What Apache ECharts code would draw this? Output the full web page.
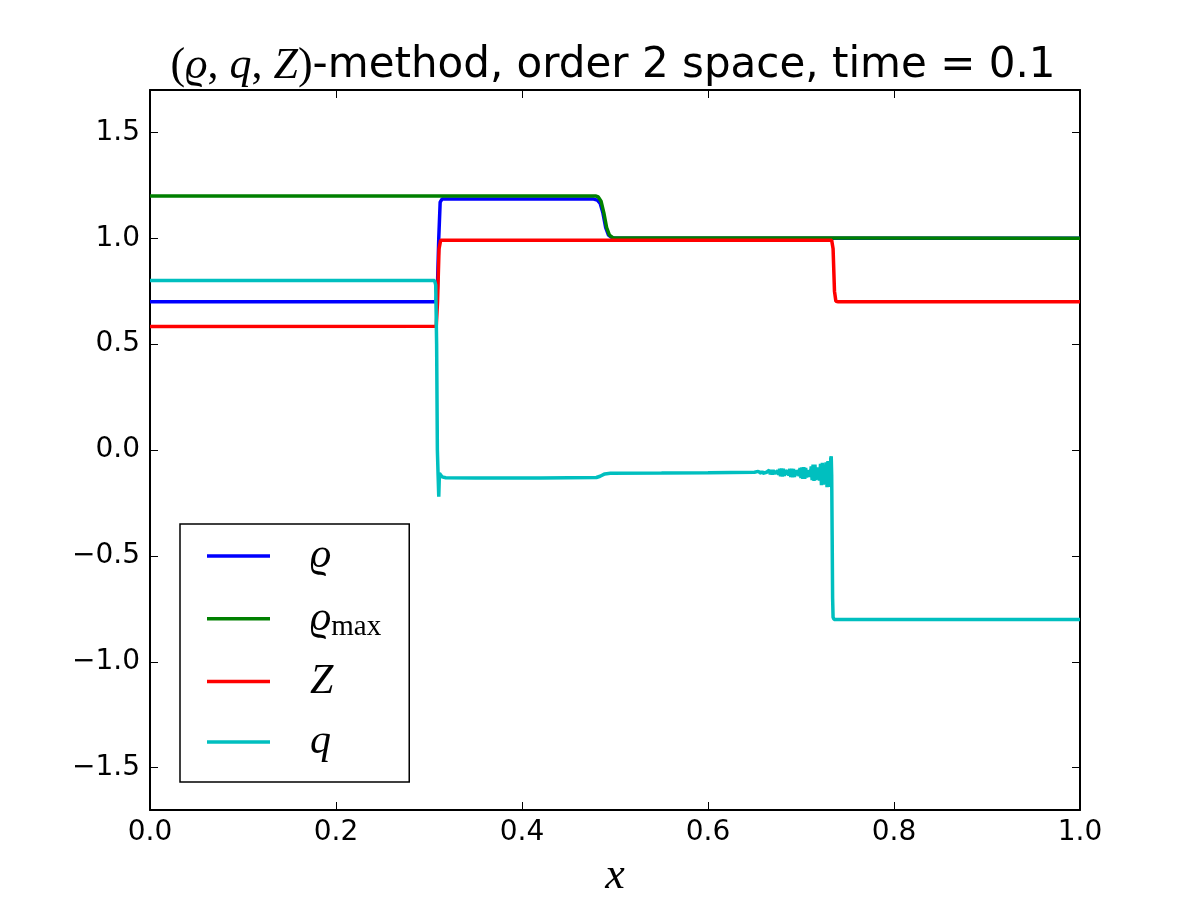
<!DOCTYPE html>
<html>
<head>
<meta charset="utf-8">
<script src="https://cdn.jsdelivr.net/npm/echarts@6/dist/echarts.min.js"></script>
<style>
html, body { margin: 0; padding: 0; background: #fff; }
#chart { width: 1200px; height: 900px; }
</style>
</head>
<body>
<div id="chart"></div>
<script>
// tick labels
var xTicks = [0, 0.2, 0.4, 0.6, 0.8, 1.0];
var yTicks = [-1.5, -1.0, -0.5, 0.0, 0.5, 1.0, 1.5];

// series values, [x, value]
var rho = [
	[0, 0.7], [0.3075, 0.7], [0.309, 0.76], [0.3105, 1.0], [0.312, 1.17], [0.314, 1.185],
	[0.477, 1.185], [0.481, 1.18], [0.484, 1.165], [0.487, 1.12], [0.49, 1.05],
	[0.493, 1.015], [0.497, 1.002], [0.5, 1.0], [1.0, 1.0]
];
var rhoMax = [
	[0, 1.2], [0.479, 1.2], [0.482, 1.195], [0.485, 1.175], [0.488, 1.12],
	[0.491, 1.05], [0.494, 1.015], [0.498, 1.002], [0.5, 1.0], [1.0, 1.0]
];
var zVals = [
	[0, 0.583], [0.3078, 0.584], [0.3092, 0.7], [0.3108, 0.95], [0.3125, 0.99],
	[0.733, 0.99], [0.7345, 0.95], [0.736, 0.75], [0.7375, 0.702], [0.74, 0.7], [1.0, 0.7]
];
var qVals = [
	[0, 0.8], [0.306, 0.8], [0.3072, 0.78], [0.3082, 0.5], [0.309, 0.0], [0.3098, -0.12],
	[0.3105, -0.22], [0.3112, -0.11], [0.3122, -0.118], [0.314, -0.127], [0.318, -0.131],
	[0.35, -0.132], [0.42, -0.132], [0.48, -0.13], [0.484, -0.124], [0.489, -0.113],
	[0.495, -0.11], [0.55, -0.109], [0.6, -0.108], [0.65, -0.105],
	[0.652, -0.105], [0.654, -0.101], [0.655, -0.109], [0.656, -0.1], [0.657, -0.11],
	[0.658, -0.1], [0.659, -0.11], [0.66, -0.101], [0.661, -0.109], [0.663, -0.105],
	[0.664, -0.099], [0.665, -0.112], [0.666, -0.095], [0.667, -0.115], [0.668, -0.094],
	[0.669, -0.116], [0.67, -0.094], [0.671, -0.115], [0.672, -0.098], [0.673, -0.111],
	[0.674, -0.106], [0.675, -0.096], [0.676, -0.118], [0.677, -0.089], [0.678, -0.124],
	[0.679, -0.087], [0.68, -0.125], [0.681, -0.088], [0.682, -0.123], [0.683, -0.094],
	[0.684, -0.116], [0.685, -0.107], [0.686, -0.095], [0.687, -0.122], [0.688, -0.089],
	[0.689, -0.128], [0.69, -0.088], [0.691, -0.129], [0.692, -0.089], [0.693, -0.127],
	[0.694, -0.095], [0.695, -0.119], [0.696, -0.108], [0.697, -0.094], [0.698, -0.124],
	[0.699, -0.085], [0.7, -0.133], [0.701, -0.082], [0.702, -0.136], [0.703, -0.081],
	[0.704, -0.136], [0.705, -0.085], [0.706, -0.13], [0.707, -0.096], [0.708, -0.113],
	[0.709, -0.095], [0.71, -0.128], [0.711, -0.077], [0.712, -0.142], [0.713, -0.069],
	[0.714, -0.146], [0.715, -0.069], [0.716, -0.142], [0.717, -0.082], [0.718, -0.122],
	[0.719, -0.092], [0.72, -0.144], [0.721, -0.065], [0.722, -0.166], [0.723, -0.06],
	[0.724, -0.164], [0.725, -0.078], [0.726, -0.154], [0.727, -0.058], [0.728, -0.176],
	[0.729, -0.052], [0.73, -0.174], [0.731, -0.058], [0.7315, -0.152], [0.732, -0.04],
	[0.7325, -0.03], [0.733, -0.12], [0.7335, -0.4], [0.734, -0.7], [0.7345, -0.79],
	[0.7355, -0.8], [1.0, -0.8]
];

var names = ['rho', 'rhomax', 'Z', 'q'];
var colors = ['#0000ff', '#008000', '#ff0000', '#00bfbf'];
var legendText = {
	rho: '{g|}{i|ϱ}',
	rhomax: '{g|}{i|ϱ}{s|max}',
	Z: '{g|}{i|Z}',
	q: '{g|}{i|q}'
};

var mathFont = 'Liberation Serif';
var sansFont = 'DejaVu Sans';

var chartDom = document.getElementById('chart');
var myChart = echarts.init(chartDom, null, { renderer: 'canvas', devicePixelRatio: 1 });

function fmt(v) {
	var s = Math.abs(v).toFixed(1);
	return v < -1e-9 ? '\u2212' + s : s;
}

var tickStyle = { show: true, inside: true, length: 8, lineStyle: { color: '#000', width: 1 } };
var lineStyleAxis = { show: true, onZero: false, lineStyle: { color: '#000', width: 2 } };

function makeSeries(name, data, i) {
	return {
		name: name,
		type: 'line',
		data: data,
		symbol: 'none',
		showSymbol: false,
		xAxisIndex: 0,
		yAxisIndex: 0,
		lineStyle: { width: 3.5, color: colors[i] },
		itemStyle: { color: colors[i] },
		z: 2 + i,
		clip: true
	};
}

var option = {
	animation: false,
	backgroundColor: '#fff',
	title: {
		text: '{r|(}{i|ϱ}{r|, }{i|q}{r|, }{i|Z}{r|)}{t|-method, order 2 space, time = 0.1}',
		left: 608,
		top: 39,
		textAlign: 'center',
		textStyle: {
			fontWeight: 'normal',
			rich: {
				r: { fontFamily: mathFont, fontSize: 44, fontWeight: 'normal', color: '#000' },
				i: { fontFamily: mathFont, fontStyle: 'italic', fontSize: 44, fontWeight: 'normal', color: '#000' },
				t: { fontFamily: sansFont, fontSize: 42, fontWeight: 'normal', color: '#000' }
			}
		}
	},
	grid: {
		left: 150,
		right: 120,
		top: 90,
		bottom: 90,
		containLabel: false,
		outerBoundsMode: 'none'
	},
	legend: {
		data: names,
		orient: 'vertical',
		left: 180,
		top: 524,
		icon: 'rect',
		itemWidth: 63,
		itemHeight: 3.5,
		itemGap: 18.3,
		padding: [11, 28, 19, 27],
		borderColor: '#000',
		borderWidth: 1.5,
		borderRadius: 0,
		backgroundColor: '#fff',
		formatter: function (n) { return legendText[n]; },
		textStyle: {
			rich: {
				g: { width: 35, lineHeight: 40 },
				i: { fontFamily: mathFont, fontStyle: 'italic', fontSize: 42, color: '#000', lineHeight: 40 },
				s: { fontFamily: mathFont, fontSize: 29, color: '#000', padding: [18, 0, 0, 0], lineHeight: 40 }
			}
		}
	},
	xAxis: [
		{
			type: 'value',
			min: 0,
			max: 1,
			position: 'bottom',
			splitLine: { show: false },
			axisLine: lineStyleAxis,
			axisTick: Object.assign({ customValues: xTicks }, tickStyle),
			axisLabel: {
				customValues: xTicks,
				formatter: fmt,
				margin: 9,
				fontFamily: sansFont,
				fontSize: 28,
				color: '#000'
			},
			name: 'x',
			nameLocation: 'middle',
			nameGap: 44,
			nameTextStyle: { fontFamily: mathFont, fontStyle: 'italic', fontSize: 44, color: '#000' }
		},
		{
			type: 'value',
			min: 0,
			max: 1,
			position: 'top',
			splitLine: { show: false },
			axisLine: lineStyleAxis,
			axisTick: Object.assign({ customValues: xTicks }, tickStyle),
			axisLabel: { show: false }
		}
	],
	yAxis: [
		{
			type: 'value',
			min: -1.7,
			max: 1.7,
			position: 'left',
			splitLine: { show: false },
			axisLine: lineStyleAxis,
			axisTick: Object.assign({ customValues: yTicks }, tickStyle),
			axisLabel: {
				customValues: yTicks,
				formatter: fmt,
				margin: 10,
				fontFamily: sansFont,
				fontSize: 28,
				color: '#000'
			}
		},
		{
			type: 'value',
			min: -1.7,
			max: 1.7,
			position: 'right',
			splitLine: { show: false },
			axisLine: lineStyleAxis,
			axisTick: Object.assign({ customValues: yTicks }, tickStyle),
			axisLabel: { show: false }
		}
	],
	series: [
		makeSeries('rho', rho, 0),
		makeSeries('rhomax', rhoMax, 1),
		makeSeries('Z', zVals, 2),
		makeSeries('q', qVals, 3)
	]
};

option && myChart.setOption(option);
</script>
</body>
</html>
